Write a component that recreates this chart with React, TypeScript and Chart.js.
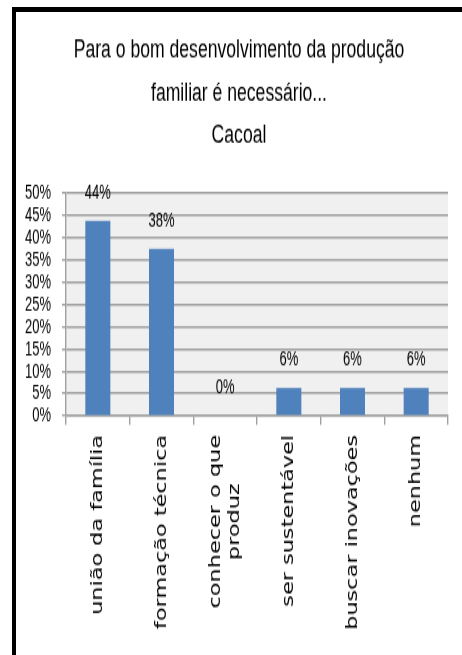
import React, { useEffect, useRef } from 'react';
import { Chart, registerables } from 'chart.js';

Chart.register(...registerables);

const titleLines = ['Para o bom desenvolvimento da produção', 'familiar é necessário...', 'Cacoal'];
const categories: (string | string[])[] = [
  'união da família',
  'formação técnica',
  ['conhecer o que', 'produz'],
  'ser sustentável',
  'buscar inovações',
  'nenhum',
];
const values = [43.75, 37.5, 0, 6.25, 6.25, 6.25];
const yMin = 0;
const yMax = 50;
const yStep = 5;

const CANVAS_W = 478;
const CANVAS_H = 468;
const STRETCH = 655 / CANVAS_H;
const NUM_FONT = '"Liberation Sans", Arial, sans-serif';
const NUM_SIZE = 15.5;
const NUM_SQUEEZE = 0.84;
const CAT_FONT = '"DejaVu Sans", Verdana, sans-serif';
const CAT_SIZE = 16;

const plotBg = {
  id: 'plotBg',
  beforeDraw(chart: any) {
    const { ctx, chartArea: a } = chart;
    ctx.save();
    ctx.fillStyle = '#f0f0f0';
    ctx.fillRect(a.left, a.top, a.right - a.left, a.bottom - a.top);
    ctx.restore();
  },
};

function squeezedText(ctx: any, text: string, x: number, y: number, align: string) {
  ctx.save();
  ctx.translate(x, y);
  ctx.scale(NUM_SQUEEZE, 1);
  ctx.textAlign = align;
  ctx.fillText(text, 0, 0);
  ctx.restore();
}

const valueLabels = {
  id: 'valueLabels',
  afterDatasetsDraw(chart: any) {
    const { ctx } = chart;
    const meta = chart.getDatasetMeta(0);
    ctx.save();
    ctx.font = `${NUM_SIZE}px ${NUM_FONT}`;
    ctx.fillStyle = '#000';
    ctx.textBaseline = 'middle';
    meta.data.forEach((el: any, i: number) => {
      squeezedText(ctx, `${Math.round(values[i])}%`, el.x, el.y - 20, 'center');
    });
    ctx.restore();
  },
};

const yTickLabels = {
  id: 'yTickLabels',
  afterDraw(chart: any) {
    const { ctx } = chart;
    const ys = chart.scales.y;
    ctx.save();
    ctx.font = `${NUM_SIZE}px ${NUM_FONT}`;
    ctx.fillStyle = '#000';
    ctx.textBaseline = 'middle';
    ys.ticks.forEach((t: any) => {
      squeezedText(ctx, `${t.value}%`, chart.chartArea.left - 15, ys.getPixelForValue(t.value), 'right');
    });
    ctx.restore();
  },
};

const xLabels = {
  id: 'xLabels',
  afterDraw(chart: any) {
    const { ctx } = chart;
    const xs = chart.scales.x;
    const top = chart.chartArea.bottom + 13.6;
    ctx.save();
    ctx.font = `${CAT_SIZE}px ${CAT_FONT}`;
    ctx.fillStyle = '#000';
    ctx.textBaseline = 'middle';
    ctx.textAlign = 'center';
    categories.forEach((lab, i) => {
      const lines = Array.isArray(lab) ? lab : [lab];
      const px = xs.getPixelForValue(i);
      const w = Math.max(...lines.map((l) => ctx.measureText(l).width));
      ctx.save();
      ctx.translate(px, top);
      ctx.rotate(-Math.PI / 2);
      lines.forEach((l, j) => {
        const v = (j - (lines.length - 1) / 2) * 19;
        ctx.fillText(l, -w / 2, v);
      });
      ctx.restore();
    });
    ctx.restore();
  },
};

export default function App() {
  const ref = useRef<HTMLCanvasElement | null>(null);

  useEffect(() => {
    const canvas = ref.current;
    if (!canvas) return;
    const chart = new Chart(canvas, {
      type: 'bar',
      data: {
        labels: categories as any,
        datasets: [
          {
            data: values,
            yAxisID: 'y',
            backgroundColor: '#4f81bd',
            borderWidth: 0,
            categoryPercentage: 1,
            barPercentage: 0.393,
          },
        ],
      },
      options: {
        responsive: false,
        animation: false,
        devicePixelRatio: 1,
        layout: { padding: 0 },
        plugins: {
          legend: { display: false },
          tooltip: { enabled: false },
          title: {
            display: true,
            text: titleLines,
            color: '#000',
            font: { family: '"Liberation Sans", Arial, sans-serif', size: 17.6, weight: 'normal', lineHeight: 1.727 },
            padding: { top: 21.2, bottom: 25.5 },
          },
        },
        scales: {
          x: {
            grid: {
              display: true,
              drawOnChartArea: false,
              drawTicks: true,
              tickLength: 6.4,
              color: '#a0a0a0',
              lineWidth: 1.4,
            },
            border: { display: true, color: '#a0a0a0', width: 1.4 },
            ticks: { display: false },
            afterFit: (s: any) => {
              s.height = CANVAS_H - 297.1;
            },
          },
          y: {
            position: 'left',
            min: yMin,
            max: yMax,
            ticks: {
              stepSize: yStep,
              autoSkip: false,
              display: false,
            },
            grid: { color: '#a0a0a0', lineWidth: 1.4, tickLength: 4 },
            border: { display: true, color: '#a0a0a0', width: 1.4 },
            afterFit: (s: any) => {
              s.width = 66;
            },
          },
          y2: {
            position: 'right',
            display: true,
            grid: { display: false, drawTicks: false },
            border: { display: false },
            ticks: { display: false },
            afterFit: (s: any) => {
              s.width = 30;
            },
          },
        },
      },
      plugins: [plotBg, valueLabels, yTickLabels, xLabels],
    } as any);
    return () => chart.destroy();
  }, []);

  return (
    <div style={{ position: 'fixed', left: 0, top: 0, width: 462, height: 655, overflow: 'hidden', background: '#fff' }}>
      <div
        style={{
          position: 'absolute',
          left: 12,
          top: 7,
          width: 520,
          height: 720,
          borderLeft: '4px solid #000',
          borderTop: '5px solid #000',
          boxSizing: 'border-box',
        }}
      />
      <div
        style={{
          position: 'absolute',
          left: 0,
          top: 0,
          width: CANVAS_W,
          height: CANVAS_H,
          transform: `scaleY(${STRETCH})`,
          transformOrigin: '0 0',
        }}
      >
        <canvas ref={ref} width={CANVAS_W} height={CANVAS_H} style={{ display: 'block', width: CANVAS_W, height: CANVAS_H }} />
      </div>
    </div>
  );
}
